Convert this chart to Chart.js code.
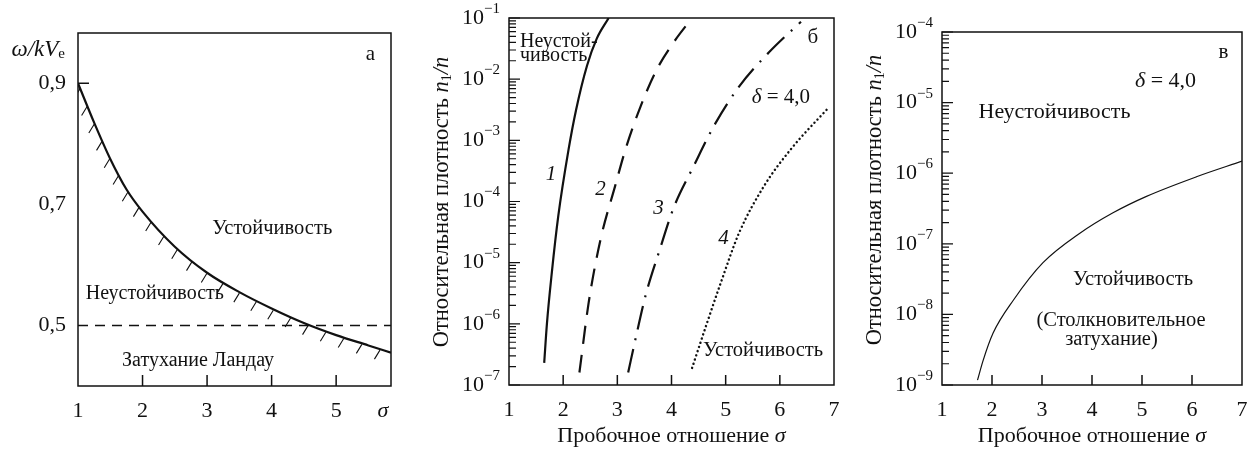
<!DOCTYPE html>
<html>
<head>
<meta charset="utf-8">
<script src="https://cdn.jsdelivr.net/npm/chart.js@4.4.1/dist/chart.umd.min.js"></script>
<style>
  body { margin: 0; background: #fff; width: 1248px; height: 449px; position: relative; overflow: hidden; }
  canvas { position: absolute; top: 0; }
</style>
</head>
<body>
<canvas id="panelA" width="420" height="449" style="left:0px"></canvas>
<canvas id="panelB" width="430" height="449" style="left:420px"></canvas>
<canvas id="panelC" width="398" height="449" style="left:850px"></canvas>
<script>
// --- panel а: stability boundary omega/kVe vs mirror ratio
const sigmaA = [1, 1.25, 1.5, 1.75, 2, 2.5, 3, 3.5, 4, 4.5, 5, 5.5, 5.85];
const omegaA = [0.9, 0.835, 0.775, 0.725, 0.688, 0.63, 0.587, 0.555, 0.528, 0.504, 0.484, 0.467, 0.455];
const landauLevel = 0.5;
const xTicksA = [1, 2, 3, 4, 5];
const yTicksA = [0.9, 0.7, 0.5];
const yLabelsA = ['0,9', '0,7', '0,5'];

// --- panel б: critical density n1/n, curves 1-4
const sigma1 = [1.65, 1.70, 1.79, 1.91, 2.10, 2.24, 2.44, 2.62, 2.84];
const dens1 = [2.3e-7, 1.0e-6, 6.8e-6, 5.8e-5, 7.1e-4, 3.2e-3, 1.66e-2, 4.6e-2, 1.0e-1];
const sigma2 = [2.30, 2.47, 2.69, 2.96, 3.15, 3.43, 3.73, 4.04, 4.38];
const dens2 = [1.6e-7, 2.2e-6, 2.4e-5, 1.8e-4, 7.1e-4, 3.6e-3, 1.45e-2, 4.0e-2, 1.0e-1];
const sigma3 = [3.20, 3.34, 3.53, 3.78, 4.04, 4.41, 4.78, 5.24, 5.80, 6.39];
const dens3 = [1.6e-7, 5.9e-7, 3.1e-6, 1.6e-5, 7.9e-5, 3.8e-4, 1.7e-3, 7.4e-3, 2.75e-2, 8.7e-2];
const sigma4 = [4.38, 4.65, 4.91, 5.25, 5.71, 6.20, 6.91];
const dens4 = [1.9e-7, 1.0e-6, 4.7e-6, 3.1e-5, 1.8e-4, 7.1e-4, 3.5e-3];
const xTicksB = [1, 2, 3, 4, 5, 6, 7];
const decadesB = [-1, -2, -3, -4, -5, -6, -7];

// --- panel в: collisional damping boundary, delta = 4.0
const sigmaC = [1.71, 1.82, 2.02, 2.43, 3.02, 3.75, 4.42, 5.09, 6.09, 7.0];
const densC = [1.17e-9, 2.2e-9, 5.4e-9, 1.6e-8, 5.4e-8, 1.4e-7, 2.75e-7, 4.7e-7, 8.9e-7, 1.48e-6];
const xTicksC = [1, 2, 3, 4, 5, 6, 7];
const decadesC = [-4, -5, -6, -7, -8, -9];

const SERIF = '"Liberation Serif", "DejaVu Serif", serif';
const INK = '#111';

function setFont(ctx, size, italic) {
  ctx.font = (italic ? 'italic ' : '') + size + 'px ' + SERIF;
}

// text made of pieces (italic letters, sub/superscripts)
function drawRuns(ctx, runs, x, y, align) {
  let total = 0;
  runs.forEach(r => {
    setFont(ctx, r.size, r.italic);
    r.w = ctx.measureText(r.t).width;
    total += r.w;
  });
  let cx = align === 'right' ? x - total : align === 'center' ? x - total / 2 : x;
  ctx.textAlign = 'left';
  runs.forEach(r => {
    setFont(ctx, r.size, r.italic);
    ctx.fillText(r.t, cx, y + (r.dy || 0));
    cx += r.w;
  });
}

function text(ctx, t, x, y, size, align, italic) {
  drawRuns(ctx, [{ t, size, italic }], x, y, align || 'center');
}

function pow10(e) {
  return [{ t: '10', size: 22 }, { t: '\u2212' + Math.abs(e), size: 15, dy: -9 }];
}

function frame(chart, ctx) {
  const a = chart.chartArea;
  ctx.lineWidth = 1.5;
  ctx.strokeRect(a.left, a.top, a.right - a.left, a.bottom - a.top);
}

function xTickMarks(chart, ctx, values, len) {
  const a = chart.chartArea, sx = chart.scales.x;
  ctx.lineWidth = 1.5;
  ctx.beginPath();
  values.forEach(v => {
    const px = sx.getPixelForValue(v);
    ctx.moveTo(px, a.bottom);
    ctx.lineTo(px, a.bottom - len);
  });
  ctx.stroke();
}

function xTickLabels(chart, ctx, values) {
  const a = chart.chartArea, sx = chart.scales.x;
  values.forEach(v => text(ctx, String(v), sx.getPixelForValue(v), a.bottom + 25, 22));
}

// log axis: long marks at decades, short ones at 2..9
function logTicks(chart, ctx, decades) {
  const a = chart.chartArea, sy = chart.scales.y;
  const lo = Math.min(...decades), hi = Math.max(...decades);
  ctx.lineWidth = 1.2;
  ctx.beginPath();
  for (let e = lo; e <= hi; e++) {
    for (let k = 1; k <= 9; k++) {
      if (e === hi && k > 1) break;
      const py = sy.getPixelForValue(k * Math.pow(10, e));
      ctx.moveTo(a.left, py);
      ctx.lineTo(a.left + (k === 1 ? 11 : 7), py);
    }
  }
  ctx.stroke();
  decades.forEach(e => drawRuns(ctx, pow10(e), a.left - 9, sy.getPixelForValue(Math.pow(10, e)), 'right'));
}

function yTitle(ctx, cx, cy) {
  ctx.save();
  ctx.translate(cx, cy);
  ctx.rotate(-Math.PI / 2);
  drawRuns(ctx, [
    { t: 'Относительная плотность ', size: 22.5 },
    { t: 'n', size: 22.5, italic: true },
    { t: '1', size: 14, dy: 5 },
    { t: '/', size: 22.5, italic: true },
    { t: 'n', size: 22.5, italic: true }
  ], 0, 0, 'center');
  ctx.restore();
}

function xTitle(chart, ctx) {
  const a = chart.chartArea;
  drawRuns(ctx, [
    { t: 'Пробочное отношение ', size: 22 },
    { t: 'σ', size: 22, italic: true }
  ], (a.left + a.right) / 2, a.bottom + 51, 'center');
}

function at(chart, x, y) {
  return [chart.scales.x.getPixelForValue(x), chart.scales.y.getPixelForValue(y)];
}

function decor(draw) {
  return {
    id: 'decor',
    afterDatasetsDraw(chart) {
      const ctx = chart.ctx;
      ctx.save();
      ctx.strokeStyle = INK;
      ctx.fillStyle = INK;
      ctx.textBaseline = 'middle';
      draw(chart, ctx);
      ctx.restore();
    }
  };
}

const points = (xs, ys) => xs.map((x, i) => ({ x, y: ys[i] }));

function baseOptions(xMin, xMax, yType, yMin, yMax, pad) {
  return {
    responsive: false,
    animation: false,
    devicePixelRatio: 1,
    layout: { padding: pad, autoPadding: false },
    plugins: { legend: { display: false }, tooltip: { enabled: false } },
    elements: { point: { radius: 0 }, line: { borderColor: INK, cubicInterpolationMode: 'monotone' } },
    scales: {
      x: { type: 'linear', min: xMin, max: xMax, display: false },
      y: { type: yType, min: yMin, max: yMax, display: false }
    }
  };
}

// panel а
new Chart(document.getElementById('panelA'), {
  type: 'line',
  data: {
    datasets: [
      { data: points(sigmaA, omegaA), borderWidth: 2.2 },
      { data: points([sigmaA[0], sigmaA[sigmaA.length - 1]], [landauLevel, landauLevel]), borderWidth: 1.4, borderDash: [10, 7] }
    ]
  },
  options: baseOptions(1, 5.85, 'linear', 0.4, 0.983, { left: 78, right: 29, top: 33, bottom: 63 }),
  plugins: [decor((chart, ctx) => {
    const a = chart.chartArea;
    // hatching on the unstable side of the boundary
    ctx.save();
    ctx.beginPath();
    ctx.rect(a.left, a.top, a.right - a.left, a.bottom - a.top);
    ctx.clip();
    const pts = chart.getDatasetMeta(0).data;
    ctx.lineWidth = 1.1;
    ctx.beginPath();
    let carry = 5;
    for (let i = 1; i < pts.length; i++) {
      const p = pts[i - 1], q = pts[i];
      const dx = q.x - p.x, dy = q.y - p.y, len = Math.hypot(dx, dy);
      let s = carry;
      while (s < len) {
        const hx = p.x + dx * s / len, hy = p.y + dy * s / len;
        ctx.moveTo(hx, hy + 1);
        ctx.lineTo(hx - 5.5, hy + 10);
        s += 19;
      }
      carry = s - len;
    }
    ctx.stroke();
    ctx.restore();

    frame(chart, ctx);
    xTickMarks(chart, ctx, xTicksA.slice(1), 11);
    // single inner mark at the top level
    const y9 = chart.scales.y.getPixelForValue(yTicksA[0]);
    ctx.beginPath();
    ctx.moveTo(a.left, y9);
    ctx.lineTo(a.left + 11, y9);
    ctx.stroke();

    xTickLabels(chart, ctx, xTicksA);
    text(ctx, 'σ', a.right - 8, a.bottom + 25, 22, 'center', true);
    yTicksA.forEach((v, i) => text(ctx, yLabelsA[i], a.left - 12, chart.scales.y.getPixelForValue(v), 22, 'right'));
    drawRuns(ctx, [
      { t: 'ω/kV', size: 23, italic: true },
      { t: 'e', size: 15, dy: 4 }
    ], a.left - 13, a.top + 17, 'right');

    let p;
    p = at(chart, 5.53, 0.947); text(ctx, 'а', p[0], p[1], 21);
    p = at(chart, 4.01, 0.66); text(ctx, 'Устойчивость', p[0], p[1], 20.5);
    p = at(chart, 2.19, 0.552); text(ctx, 'Неустойчивость', p[0], p[1], 20);
    p = at(chart, 2.86, 0.441); text(ctx, 'Затухание Ландау', p[0], p[1], 20);
  })]
});

// panel б
new Chart(document.getElementById('panelB'), {
  type: 'line',
  data: {
    datasets: [
      { data: points(sigma1, dens1), borderWidth: 2.2 },
      { data: points(sigma2, dens2), borderWidth: 2.2, borderDash: [18, 11] },
      { data: points(sigma3, dens3), borderWidth: 2.2, borderDash: [24, 9, 2, 9] },
      { data: points(sigma4, dens4), borderWidth: 2.4, borderDash: [0.1, 4.3], borderCapStyle: 'round' }
    ]
  },
  options: baseOptions(1, 7, 'logarithmic', 1e-7, 1e-1, { left: 89, right: 16, top: 18, bottom: 64 }),
  plugins: [decor((chart, ctx) => {
    const a = chart.chartArea;
    frame(chart, ctx);
    xTickMarks(chart, ctx, xTicksB.slice(1, -1), 10);
    logTicks(chart, ctx, decadesB);
    xTickLabels(chart, ctx, xTicksB);
    xTitle(chart, ctx);
    yTitle(ctx, a.left - 67, 202);

    ctx.textBaseline = 'alphabetic';
    text(ctx, 'Неустой-', a.left + 11, a.top + 29, 20, 'left');
    text(ctx, 'чивость', a.left + 11, a.top + 43, 20, 'left');
    ctx.textBaseline = 'middle';

    let p;
    p = at(chart, 1.775, 2.8e-4); text(ctx, '1', p[0], p[1], 21, 'center', true);
    p = at(chart, 2.69, 1.55e-4); text(ctx, '2', p[0], p[1], 21, 'center', true);
    p = at(chart, 3.76, 7.8e-5); text(ctx, '3', p[0], p[1], 21, 'center', true);
    p = at(chart, 4.96, 2.5e-5); text(ctx, '4', p[0], p[1], 21, 'center', true);
    p = at(chart, 6.61, 4.8e-2); text(ctx, 'б', p[0], p[1], 21);
    p = at(chart, 6.02, 5.1e-3);
    drawRuns(ctx, [{ t: 'δ', size: 21, italic: true }, { t: ' = 4,0', size: 21 }], p[0], p[1], 'center');
    p = at(chart, 5.69, 3.7e-7); text(ctx, 'Устойчивость', p[0], p[1], 20.5);
  })]
});

// panel в
new Chart(document.getElementById('panelC'), {
  type: 'line',
  data: {
    datasets: [
      { data: points(sigmaC, densC), borderWidth: 1.2 }
    ]
  },
  options: baseOptions(1, 7, 'logarithmic', 1e-9, 1e-4, { left: 92, right: 6, top: 32, bottom: 64 }),
  plugins: [decor((chart, ctx) => {
    const a = chart.chartArea;
    frame(chart, ctx);
    xTickMarks(chart, ctx, xTicksC.slice(1, -1), 10);
    logTicks(chart, ctx, decadesC);
    xTickLabels(chart, ctx, xTicksC);
    xTitle(chart, ctx);
    yTitle(ctx, a.left - 67, 200);

    let p;
    p = at(chart, 6.63, 5.2e-5); text(ctx, 'в', p[0], p[1], 21);
    p = at(chart, 5.47, 2.0e-5);
    drawRuns(ctx, [{ t: 'δ', size: 22, italic: true }, { t: ' = 4,0', size: 22 }], p[0], p[1], 'center');
    p = at(chart, 3.25, 7.2e-6); text(ctx, 'Неустойчивость', p[0], p[1], 22);
    p = at(chart, 4.82, 3.1e-8); text(ctx, 'Устойчивость', p[0], p[1], 20.5);
    p = at(chart, 4.58, 8.3e-9); text(ctx, '(Столкновительное', p[0], p[1], 20.5);
    p = at(chart, 4.39, 4.4e-9); text(ctx, 'затухание)', p[0], p[1], 20.5);
  })]
});
</script>
</body>
</html>
